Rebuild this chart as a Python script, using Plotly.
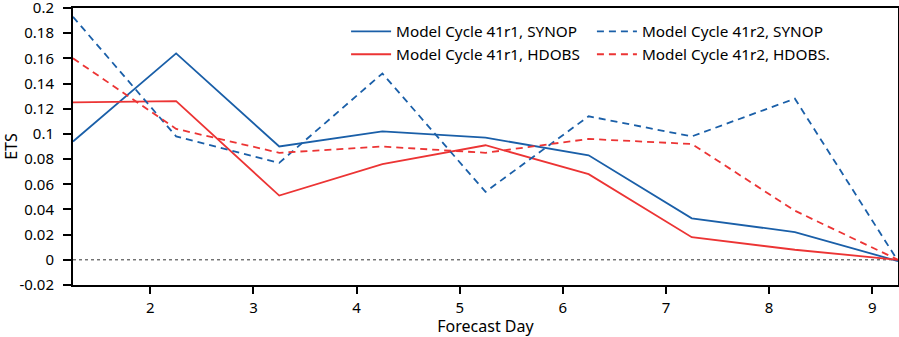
import plotly.graph_objects as go

forecast_day = [1.25, 2.25, 3.25, 4.25, 5.25, 6.25, 7.25, 8.25, 9.25]
c41r1_synop = [0.094, 0.164, 0.090, 0.102, 0.097, 0.083, 0.033, 0.022, -0.001]
c41r1_hdobs = [0.125, 0.126, 0.051, 0.076, 0.091, 0.068, 0.018, 0.008, 0.000]
c41r2_synop = [0.193, 0.098, 0.077, 0.148, 0.054, 0.114, 0.098, 0.128, -0.001]
c41r2_hdobs = [0.160, 0.104, 0.085, 0.090, 0.085, 0.096, 0.092, 0.039, 0.000]

y_tickvals = [-0.02, 0, 0.02, 0.04, 0.06, 0.08, 0.1, 0.12, 0.14, 0.16, 0.18, 0.2]
y_ticktext = ["-0.02", "0", "0.02", "0.04", "0.06", "0.08", "0.1", "0.12", "0.14", "0.16", "0.18", "0.2"]
x_tickvals = [2, 3, 4, 5, 6, 7, 8, 9]

BLUE = "#1a5fa8"
RED = "#ec3434"

fig = go.Figure()
series = [
    ("Model Cycle 41r1, SYNOP", c41r1_synop, BLUE, "solid", "legend"),
    ("Model Cycle 41r1, HDOBS", c41r1_hdobs, RED, "solid", "legend"),
    ("Model Cycle 41r2, SYNOP", c41r2_synop, BLUE, "7px,5px", "legend2"),
    ("Model Cycle 41r2, HDOBS.", c41r2_hdobs, RED, "7px,5px", "legend2"),
]
for name, vals, col, dash, lg in series:
    fig.add_trace(go.Scatter(x=forecast_day, y=vals, mode="lines", name=name, legend=lg,
                             line=dict(color=col, width=1.8, dash=dash)))

fig.add_hline(y=0, line=dict(color="#333333", width=1, dash="3px,3px"), layer="below")

legend_common = dict(orientation="v", y=0.975, xanchor="left", yanchor="top",
                     bgcolor="rgba(0,0,0,0)", font=dict(size=15.3), tracegroupgap=0,
                     itemwidth=40, traceorder="normal")

fig.update_layout(
    width=899, height=337,
    margin=dict(l=73, r=1, t=8, b=52, autoexpand=False),
    paper_bgcolor="white", plot_bgcolor="white",
    font=dict(family="Noto Sans", size=15, color="black"),
    showlegend=True,
    legend=dict(x=0.331, **legend_common),
    legend2=dict(x=0.629, **legend_common),
    xaxis=dict(range=[1.25, 9.25], tickvals=x_tickvals, showgrid=False, zeroline=False,
               showline=True, linecolor="black", linewidth=2, mirror=True,
               ticks="outside", ticklen=7, tickwidth=1.5, tickcolor="black",
               ticklabelstandoff=1, ticklabeloverflow="allow",
               title=dict(text="Forecast Day", font=dict(size=16), standoff=5)),
    yaxis=dict(range=[-0.0200001, 0.2000001], tickvals=y_tickvals, ticktext=y_ticktext,
               showgrid=False, zeroline=False,
               showline=True, linecolor="black", linewidth=2, mirror=True,
               ticks="outside", ticklen=8, tickwidth=1.5, tickcolor="black",
               ticklabelstandoff=6, ticklabeloverflow="allow",
               title=dict(text="ETS", font=dict(size=16), standoff=6)),
)

fig.write_html("out.html", config={"displayModeBar": False},
               post_script="document.body.style.margin='0';document.body.style.overflow='hidden';")
